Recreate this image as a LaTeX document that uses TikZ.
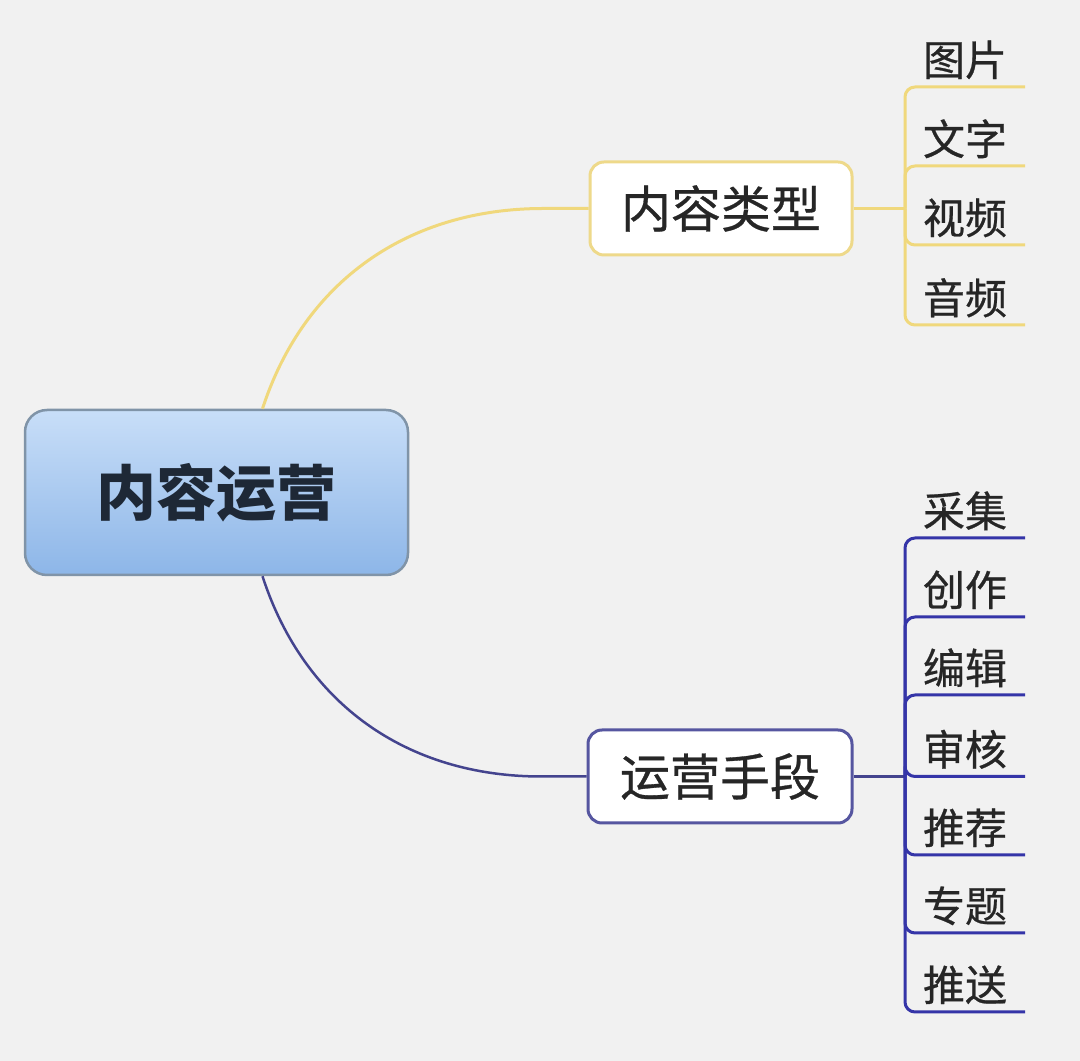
\documentclass[tikz,border=0pt]{standalone}
\usepackage{fontspec}
\newfontfamily\cjk{Noto Sans CJK SC}
\newfontfamily\cjkm[FakeBold=0.6]{Noto Sans CJK SC}
\definecolor{bgc}{HTML}{F1F1F1}
\definecolor{rootTop}{HTML}{C8DEF8}
\definecolor{rootBot}{HTML}{8DB6E8}
\definecolor{rootborder}{HTML}{8094A8}
\definecolor{roottext}{HTML}{1E2836}
\definecolor{yel}{HTML}{F0D87C}
\definecolor{ybord}{HTML}{EED98A}
\definecolor{blu}{HTML}{3535A8}
\definecolor{bcurve}{HTML}{44448E}
\definecolor{bbord}{HTML}{5656A0}
\definecolor{txt}{HTML}{262626}
\tikzset{
  rootbox/.style={rounded corners=22pt, draw=rootborder, line width=2.5pt,
    top color=rootTop, bottom color=rootBot, minimum width=383pt, minimum height=165pt,
    inner sep=0pt, font=\cjk\bfseries\fontsize{60}{70}\selectfont, text=roottext},
  ybox/.style={rounded corners=14pt, draw=ybord, line width=3pt, fill=white,
    minimum width=262pt, minimum height=93pt, inner sep=0pt,
    font=\cjkm\fontsize{50}{60}\selectfont, text=txt},
  bbox/.style={rounded corners=14pt, draw=bbord, line width=3pt, fill=white,
    minimum width=264pt, minimum height=93pt, inner sep=0pt,
    font=\cjkm\fontsize{50}{60}\selectfont, text=txt},
  leaf/.style={minimum width=120pt, minimum height=54pt, inner sep=0pt, anchor=south,
    font=\cjkm\fontsize{42}{48}\selectfont, text=txt},
  yline/.style={draw=yel, line width=3pt},
  bline/.style={draw=blu, line width=3pt},
  bcline/.style={draw=bcurve, line width=2.5pt}
}
\begin{document}
\begin{tikzpicture}[x=1pt,y=1pt]
\fill[bgc] (0,0) rectangle (1080,1061);
\useasboundingbox (0,0) rectangle (1080,1061);

% main nodes
\node[rootbox] (root) at (216.5,568.5) {内容运营};
\node[ybox] (tb) at (721,852.5) {内容类型};
\node[bbox] (bb) at (720,284.5) {运营手段};

% curves from root
\draw[yline] ([xshift=46pt]root.north) to[out=72,in=180] ([xshift=-45pt]tb.west) -- (tb.west);
\draw[bcline] ([xshift=46pt]root.south) to[out=-72,in=180] ([xshift=-45pt]bb.west) -- (bb.west);

% yellow leaves
\coordinate (yh) at (905,852.5);
\node[leaf] (y1) at (965,974) {图片};
\node[leaf] (y2) at (965,895) {文字};
\node[leaf] (y3) at (965,816) {视频};
\node[leaf] (y4) at (965,736) {音频};
\draw[yline] (tb.east) -- (yh);
\foreach \n in {y1,y2,y3,y4}{
  \draw[yline, rounded corners=10pt] (yh) |- (\n.south east);
}

% blue leaves
\coordinate (bh) at (905,284.5);
\node[leaf] (b1) at (965,523) {采集};
\node[leaf] (b2) at (965,444) {创作};
\node[leaf] (b3) at (965,366) {编辑};
\node[leaf] (b4) at (965,284.5) {审核};
\node[leaf] (b5) at (965,206) {推荐};
\node[leaf] (b6) at (965,128) {专题};
\node[leaf] (b7) at (965,49) {推送};
\draw[bcline] (bb.east) -- (bh);
\foreach \n in {b1,b2,b3,b4,b5,b6,b7}{
  \draw[bline, rounded corners=10pt] (bh) |- (\n.south east);
}
\end{tikzpicture}
\end{document}
